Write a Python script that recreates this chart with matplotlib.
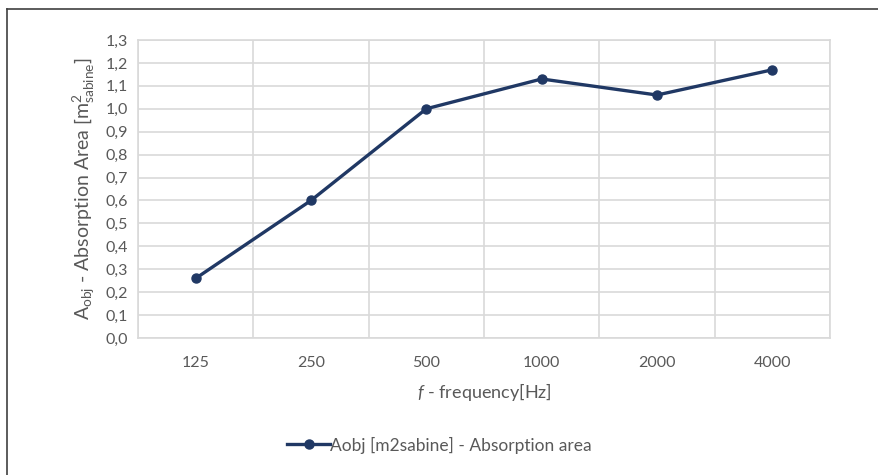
import matplotlib.pyplot as plt
from matplotlib.lines import Line2D
from matplotlib.ticker import FuncFormatter

# dati
frequenze = ["125", "250", "500", "1000", "2000", "4000"]
area_assorbimento = [0.26, 0.60, 1.00, 1.13, 1.06, 1.17]
y_ticks = [i / 10 for i in range(14)]

plt.rcParams['font.family'] = ['Lato', 'DejaVu Sans']
plt.rcParams['mathtext.fontset'] = 'custom'
plt.rcParams['mathtext.rm'] = 'Lato'
plt.rcParams['mathtext.it'] = 'Lato:italic'

colore = '#203864'
grigio = '#595959'

fig = plt.figure(figsize=(8.79, 4.75), dpi=100)
ax = fig.add_axes([138 / 879, 137 / 475, 692 / 879, 298 / 475])

x = list(range(len(frequenze)))
ax.plot(x, area_assorbimento, color=colore, lw=2.4, marker='o', ms=6.5,
        label='Aobj [m2sabine] - Absorption area', zorder=3)

ax.set_xlim(-0.5, len(frequenze) - 0.5)
ax.set_ylim(0, 1.3)
ax.set_yticks(y_ticks)
ax.yaxis.set_major_formatter(FuncFormatter(lambda v, p: f"{v:.1f}".replace('.', ',')))
ax.set_xticks(x)
ax.set_xticklabels(frequenze)
ax.set_xticks([i + 0.5 for i in range(-1, len(frequenze))], minor=True)

ax.grid(True, axis='y', which='major', color='#d9d9d9', lw=1.2)
ax.grid(True, axis='x', which='minor', color='#d9d9d9', lw=1.2)
ax.tick_params(axis='both', which='both', length=0, colors=grigio, labelsize=11.5)
ax.tick_params(axis='x', pad=13)
ax.tick_params(axis='y', pad=7)
for s in ax.spines.values():
    s.set_color('#d9d9d9')
    s.set_linewidth(1.2)
ax.set_axisbelow(True)

ax.set_ylabel(r"A$_{\mathrm{obj}}$ - Absorption Area [m$^{2}_{\mathrm{sabine}}$]",
              fontsize=14, color=grigio, labelpad=6)
ax.set_xlabel(r"$f$ - frequency[Hz]", fontsize=13, color=grigio, labelpad=8)

leg = fig.legend(loc='center', bbox_to_anchor=(0.5, 30 / 475), frameon=False,
                 fontsize=12.5, handlelength=2.5, handletextpad=0.0)
for t in leg.get_texts():
    t.set_color(grigio)

# cornice
fig.add_artist(Line2D([7 / 879, 1], [1 - 9 / 475, 1 - 9 / 475], color='#404040', lw=1.2))
fig.add_artist(Line2D([7 / 879, 7 / 879], [0, 1 - 9 / 475], color='#404040', lw=1.2))

fig.savefig('out.png', dpi=100)
